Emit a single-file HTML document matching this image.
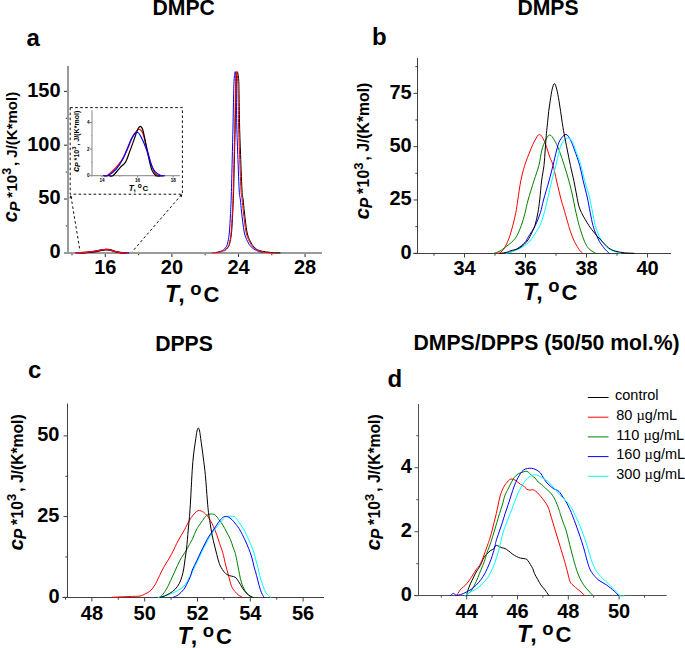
<!DOCTYPE html>
<html><head><meta charset="utf-8"><style>
html,body{margin:0;padding:0;background:#fff;}
body{width:685px;height:648px;overflow:hidden;}
svg{display:block;font-family:"Liberation Sans",sans-serif;}
</style></head><body>
<svg width="685" height="648" viewBox="0 0 685 648">
<rect width="685" height="648" fill="#fff"/>
<text x="183.70" y="15.30" font-size="21.2" text-anchor="middle" font-weight="bold" font-style="normal" >DMPC</text>
<text x="548.00" y="15.30" font-size="21.2" text-anchor="middle" font-weight="bold" font-style="normal" >DMPS</text>
<text x="184.00" y="350.70" font-size="21.2" text-anchor="middle" font-weight="bold" font-style="normal" >DPPS</text>
<text x="546.60" y="350.30" font-size="21.2" text-anchor="middle" font-weight="bold" font-style="normal" >DMPS/DPPS (50/50 mol.%)</text>
<text x="26.60" y="45.60" font-size="24" text-anchor="start" font-weight="bold" font-style="normal" >a</text>
<text x="372.00" y="45.20" font-size="24" text-anchor="start" font-weight="bold" font-style="normal" >b</text>
<text x="28.00" y="378.20" font-size="24" text-anchor="start" font-weight="bold" font-style="normal" >c</text>
<text x="387.60" y="387.00" font-size="24" text-anchor="start" font-weight="bold" font-style="normal" >d</text>
<line x1="72.00" y1="253.00" x2="72.00" y2="255.20" stroke="#3a3a3a" stroke-width="1.1" />
<line x1="105.30" y1="253.00" x2="105.30" y2="257.00" stroke="#3a3a3a" stroke-width="1.1" />
<text x="105.30" y="274.20" font-size="20" text-anchor="middle" font-weight="bold" font-style="normal" >16</text>
<line x1="138.60" y1="253.00" x2="138.60" y2="255.20" stroke="#3a3a3a" stroke-width="1.1" />
<line x1="171.90" y1="253.00" x2="171.90" y2="257.00" stroke="#3a3a3a" stroke-width="1.1" />
<text x="171.90" y="274.20" font-size="20" text-anchor="middle" font-weight="bold" font-style="normal" >20</text>
<line x1="205.20" y1="253.00" x2="205.20" y2="255.20" stroke="#3a3a3a" stroke-width="1.1" />
<line x1="238.50" y1="253.00" x2="238.50" y2="257.00" stroke="#3a3a3a" stroke-width="1.1" />
<text x="238.50" y="274.20" font-size="20" text-anchor="middle" font-weight="bold" font-style="normal" >24</text>
<line x1="271.80" y1="253.00" x2="271.80" y2="255.20" stroke="#3a3a3a" stroke-width="1.1" />
<line x1="305.10" y1="253.00" x2="305.10" y2="257.00" stroke="#3a3a3a" stroke-width="1.1" />
<text x="305.10" y="274.20" font-size="20" text-anchor="middle" font-weight="bold" font-style="normal" >28</text>
<line x1="64.00" y1="252.80" x2="68.00" y2="252.80" stroke="#3a3a3a" stroke-width="1.1" />
<text x="60.60" y="258.20" font-size="20" text-anchor="end" font-weight="bold" font-style="normal" >0</text>
<line x1="65.80" y1="225.90" x2="68.00" y2="225.90" stroke="#3a3a3a" stroke-width="1.1" />
<line x1="64.00" y1="199.00" x2="68.00" y2="199.00" stroke="#3a3a3a" stroke-width="1.1" />
<text x="60.60" y="204.40" font-size="20" text-anchor="end" font-weight="bold" font-style="normal" >50</text>
<line x1="65.80" y1="172.10" x2="68.00" y2="172.10" stroke="#3a3a3a" stroke-width="1.1" />
<line x1="64.00" y1="145.20" x2="68.00" y2="145.20" stroke="#3a3a3a" stroke-width="1.1" />
<text x="60.60" y="150.60" font-size="20" text-anchor="end" font-weight="bold" font-style="normal" >100</text>
<line x1="65.80" y1="118.30" x2="68.00" y2="118.30" stroke="#3a3a3a" stroke-width="1.1" />
<line x1="64.00" y1="91.40" x2="68.00" y2="91.40" stroke="#3a3a3a" stroke-width="1.1" />
<text x="60.60" y="96.80" font-size="20" text-anchor="end" font-weight="bold" font-style="normal" >150</text>
<line x1="68.00" y1="66.00" x2="68.00" y2="254.00" stroke="#9a9a9a" stroke-width="2" />
<line x1="64.00" y1="253.00" x2="322.00" y2="253.00" stroke="#9a9a9a" stroke-width="2" />
<rect x="70.2" y="107.6" width="112.2" height="86.6" fill="none" stroke="#111" stroke-width="1" stroke-dasharray="2.6,2.4"/>
<line x1="71.00" y1="196.50" x2="80.00" y2="251.00" stroke="#111" stroke-width="1" stroke-dasharray="2.6,2.4"/>
<line x1="181.40" y1="194.80" x2="132.10" y2="251.80" stroke="#111" stroke-width="1" stroke-dasharray="2.6,2.4"/>
<path d="M70.2,195.2 L72.4,197.2 L69.6,198.4 Z" fill="#111"/>
<path d="M182.4,194.2 L181.6,197.4 L179.6,195.6 Z" fill="#111"/>
<line x1="102.00" y1="175.70" x2="102.00" y2="177.40" stroke="#333" stroke-width="0.7" />
<text x="102.00" y="181.80" font-size="4.6" text-anchor="middle" font-weight="bold" font-style="normal" >14</text>
<line x1="137.60" y1="175.70" x2="137.60" y2="177.40" stroke="#333" stroke-width="0.7" />
<text x="137.60" y="181.80" font-size="4.6" text-anchor="middle" font-weight="bold" font-style="normal" >16</text>
<line x1="173.20" y1="175.70" x2="173.20" y2="177.40" stroke="#333" stroke-width="0.7" />
<text x="173.20" y="181.80" font-size="4.6" text-anchor="middle" font-weight="bold" font-style="normal" >18</text>
<line x1="119.80" y1="175.70" x2="119.80" y2="176.70" stroke="#333" stroke-width="0.6" />
<line x1="155.40" y1="175.70" x2="155.40" y2="176.70" stroke="#333" stroke-width="0.6" />
<line x1="90.00" y1="175.70" x2="92.00" y2="175.70" stroke="#333" stroke-width="0.7" />
<text x="89.60" y="177.40" font-size="4.6" text-anchor="end" font-weight="bold" font-style="normal" >0</text>
<line x1="90.00" y1="149.10" x2="92.00" y2="149.10" stroke="#333" stroke-width="0.7" />
<text x="89.60" y="150.80" font-size="4.6" text-anchor="end" font-weight="bold" font-style="normal" >2</text>
<line x1="90.00" y1="122.50" x2="92.00" y2="122.50" stroke="#333" stroke-width="0.7" />
<text x="89.60" y="124.20" font-size="4.6" text-anchor="end" font-weight="bold" font-style="normal" >4</text>
<line x1="91.00" y1="162.40" x2="92.00" y2="162.40" stroke="#333" stroke-width="0.6" />
<line x1="91.00" y1="135.80" x2="92.00" y2="135.80" stroke="#333" stroke-width="0.6" />
<line x1="92.00" y1="110.30" x2="92.00" y2="176.30" stroke="#9a9a9a" stroke-width="1.2" />
<line x1="91.40" y1="175.70" x2="180.00" y2="175.70" stroke="#9a9a9a" stroke-width="1.2" />
<text transform="translate(79.00,171.90) rotate(-90)" font-size="7.05" font-weight="bold"><tspan x="-0.09" font-style="italic" font-size="9.40">c</tspan><tspan x="4.98" font-style="italic" font-size="7.05" dy="1.40">P</tspan><tspan x="11.37" dy="-1.40">*</tspan><tspan x="14.33">10</tspan><tspan x="22.18" font-size="5.88" dy="-2.82">3</tspan><tspan x="26.32" dy="2.82">, J/(K*mol)</tspan></text>
<text font-weight="bold"><tspan x="128.8" y="191" font-style="italic" font-size="8.2">T</tspan><tspan x="133.5" y="191" font-size="8.2">,</tspan><tspan x="137.8" y="188.2" font-size="6.6">o</tspan><tspan x="142.4" y="191" font-size="7.8">C</tspan></text>
<path d="M103.78,175.70 C104.34,175.66 105.23,176.68 107.16,175.43 C109.09,174.19 112.80,170.98 115.35,168.25 C117.90,165.53 120.42,162.31 122.47,159.07 C124.52,155.84 126.09,152.25 127.63,148.83 C129.17,145.42 130.36,141.41 131.73,138.59 C133.09,135.78 134.54,133.49 135.82,131.94 C137.10,130.39 138.19,129.04 139.38,129.28 C140.57,129.53 141.66,130.15 142.94,133.41 C144.22,136.66 145.67,143.71 147.03,148.83 C148.40,153.95 149.76,160.03 151.13,164.13 C152.49,168.23 153.86,171.51 155.22,173.44 C156.59,175.37 158.10,175.32 159.32,175.70 C160.53,176.08 161.99,175.70 162.52,175.70" fill="none" stroke="#ff0000" stroke-width="1.2" stroke-linejoin="round" stroke-linecap="round" />
<path d="M109.12,175.70 C109.80,175.66 111.34,176.83 113.21,175.43 C115.08,174.04 118.29,169.54 120.33,167.32 C122.38,165.10 123.95,164.71 125.50,162.13 C127.04,159.56 128.23,155.48 129.59,151.89 C130.95,148.30 132.32,144.36 133.68,140.59 C135.05,136.82 136.65,131.65 137.78,129.28 C138.91,126.91 139.59,126.18 140.45,126.36 C141.31,126.53 142.02,127.29 142.94,130.35 C143.86,133.41 144.96,139.92 145.97,144.71 C146.97,149.50 147.98,154.80 148.99,159.07 C150.00,163.35 150.83,167.61 152.02,170.38 C153.20,173.15 154.66,174.81 156.11,175.70 C157.57,176.59 159.97,175.70 160.74,175.70" fill="none" stroke="#000000" stroke-width="1.2" stroke-linejoin="round" stroke-linecap="round" />
<path d="M103.78,175.70 C104.52,175.66 106.15,176.54 108.23,175.43 C110.31,174.33 113.87,171.67 116.24,169.05 C118.61,166.43 120.57,163.29 122.47,159.74 C124.37,156.19 125.94,151.63 127.63,147.77 C129.32,143.91 130.93,139.15 132.62,136.60 C134.31,134.05 136.24,132.14 137.78,132.47 C139.32,132.81 140.33,135.51 141.87,138.59 C143.41,141.67 145.49,146.71 147.03,150.96 C148.58,155.22 149.79,160.67 151.13,164.13 C152.46,167.59 153.35,169.78 155.04,171.71 C156.74,173.64 159.73,175.03 161.27,175.70 C162.82,176.36 163.80,175.70 164.30,175.70" fill="none" stroke="#0000ff" stroke-width="1.2" stroke-linejoin="round" stroke-linecap="round" />
<path d="M75.97,252.80 C76.62,252.80 78.04,252.86 79.84,252.78 C81.65,252.70 84.75,252.51 86.81,252.33 C88.88,252.14 90.58,251.92 92.23,251.66 C93.88,251.41 95.25,251.09 96.72,250.81 C98.19,250.54 99.59,250.20 101.06,250.02 C102.53,249.83 104.21,249.70 105.55,249.72 C106.89,249.75 107.77,249.94 109.11,250.16 C110.45,250.38 112.26,250.74 113.60,251.04 C114.94,251.34 116.00,251.73 117.16,251.98 C118.32,252.22 119.10,252.38 120.57,252.52 C122.04,252.65 124.65,252.75 125.99,252.80 C127.33,252.85 128.18,252.80 128.62,252.80" fill="none" stroke="#0000ff" stroke-width="1.3" stroke-linejoin="round" stroke-linecap="round" />
<path d="M80.62,252.80 C81.21,252.80 82.55,252.88 84.18,252.78 C85.81,252.68 88.59,252.36 90.37,252.20 C92.15,252.05 93.52,252.02 94.86,251.83 C96.21,251.65 97.24,251.36 98.43,251.11 C99.61,250.85 100.80,250.57 101.99,250.30 C103.17,250.03 104.57,249.66 105.55,249.50 C106.53,249.33 107.12,249.27 107.87,249.29 C108.62,249.30 109.24,249.35 110.04,249.57 C110.84,249.79 111.79,250.25 112.67,250.59 C113.55,250.93 114.43,251.31 115.30,251.62 C116.18,251.92 116.90,252.22 117.94,252.42 C118.97,252.62 120.23,252.74 121.50,252.80 C122.76,252.86 124.85,252.80 125.52,252.80" fill="none" stroke="#000000" stroke-width="1.3" stroke-linejoin="round" stroke-linecap="round" />
<path d="M75.97,252.80 C76.46,252.80 77.24,252.87 78.91,252.78 C80.59,252.69 83.82,252.46 86.04,252.27 C88.26,252.08 90.45,251.85 92.23,251.62 C94.01,251.39 95.38,251.13 96.72,250.89 C98.06,250.64 99.10,250.36 100.28,250.16 C101.47,249.96 102.74,249.80 103.84,249.68 C104.95,249.57 105.91,249.48 106.94,249.50 C107.97,249.51 108.93,249.56 110.04,249.79 C111.15,250.02 112.41,250.52 113.60,250.89 C114.79,251.25 115.97,251.68 117.16,251.98 C118.35,252.27 119.54,252.50 120.72,252.64 C121.91,252.78 123.23,252.77 124.28,252.80 C125.34,252.83 126.61,252.80 127.07,252.80" fill="none" stroke="#ff0000" stroke-width="1.3" stroke-linejoin="round" stroke-linecap="round" />
<path d="M216.00,252.50 C217.08,252.18 220.80,251.53 222.50,250.60 C224.20,249.67 225.28,248.45 226.20,246.90 C227.12,245.35 227.47,243.78 228.00,241.30 C228.53,238.82 228.98,236.63 229.40,232.00 C229.82,227.37 230.18,219.67 230.50,213.50 C230.82,207.33 231.02,203.92 231.30,195.00 C231.58,186.08 231.92,171.50 232.20,160.00 C232.48,148.50 232.77,136.67 233.00,126.00 C233.23,115.33 233.42,103.67 233.60,96.00 C233.78,88.33 233.83,84.07 234.10,80.00 C234.37,75.93 234.90,71.60 235.20,71.60 C235.50,71.60 235.72,75.93 235.90,80.00 C236.08,84.07 236.15,88.33 236.30,96.00 C236.45,103.67 236.58,117.00 236.80,126.00 C237.02,135.00 237.20,139.33 237.60,150.00 C238.00,160.67 238.73,181.67 239.20,190.00 C239.67,198.33 240.00,196.33 240.40,200.00 C240.80,203.67 240.97,206.67 241.60,212.00 C242.23,217.33 243.22,227.12 244.20,232.00 C245.18,236.88 246.33,238.82 247.50,241.30 C248.67,243.78 249.67,245.35 251.20,246.90 C252.73,248.45 254.85,249.70 256.70,250.60 C258.55,251.50 261.37,252.02 262.30,252.30" fill="none" stroke="#0000ff" stroke-width="1.0" stroke-linejoin="round" stroke-linecap="round" />
<path d="M224.70,250.60 C225.32,249.98 227.48,248.45 228.40,246.90 C229.32,245.35 229.67,243.78 230.20,241.30 C230.73,238.82 231.18,236.63 231.60,232.00 C232.02,227.37 232.38,219.67 232.70,213.50 C233.02,207.33 233.22,203.92 233.50,195.00 C233.78,186.08 234.12,171.50 234.40,160.00 C234.68,148.50 234.97,136.67 235.20,126.00 C235.43,115.33 235.62,103.67 235.80,96.00 C235.98,88.33 236.03,84.03 236.30,80.00 C236.57,75.97 237.00,71.80 237.40,71.80 C237.80,71.80 238.42,75.97 238.70,80.00 C238.98,84.03 238.95,88.33 239.10,96.00 C239.25,103.67 239.38,117.00 239.60,126.00 C239.82,135.00 240.00,139.33 240.40,150.00 C240.80,160.67 241.53,181.67 242.00,190.00 C242.47,198.33 242.80,196.33 243.20,200.00 C243.60,203.67 243.77,206.67 244.40,212.00 C245.03,217.33 246.02,227.12 247.00,232.00 C247.98,236.88 249.13,238.82 250.30,241.30 C251.47,243.78 252.47,245.35 254.00,246.90 C255.53,248.45 256.50,249.65 259.50,250.60 C262.50,251.55 268.58,252.22 272.00,252.60 C275.42,252.98 278.67,252.85 280.00,252.90" fill="none" stroke="#000000" stroke-width="1.0" stroke-linejoin="round" stroke-linecap="round" />
<path d="M212.00,252.90 C212.97,252.83 215.75,252.88 217.80,252.50 C219.85,252.12 222.60,251.53 224.30,250.60 C226.00,249.67 227.08,248.45 228.00,246.90 C228.92,245.35 229.27,243.78 229.80,241.30 C230.33,238.82 230.78,236.63 231.20,232.00 C231.62,227.37 231.98,219.67 232.30,213.50 C232.62,207.33 232.82,203.92 233.10,195.00 C233.38,186.08 233.72,171.50 234.00,160.00 C234.28,148.50 234.57,136.67 234.80,126.00 C235.03,115.33 235.22,103.67 235.40,96.00 C235.58,88.33 235.67,84.10 235.90,80.00 C236.13,75.90 236.50,71.40 236.80,71.40 C237.10,71.40 237.48,75.90 237.70,80.00 C237.92,84.10 237.95,88.33 238.10,96.00 C238.25,103.67 238.38,117.00 238.60,126.00 C238.82,135.00 239.00,139.33 239.40,150.00 C239.80,160.67 240.53,181.67 241.00,190.00 C241.47,198.33 241.80,196.33 242.20,200.00 C242.60,203.67 242.77,206.67 243.40,212.00 C244.03,217.33 245.02,227.12 246.00,232.00 C246.98,236.88 248.13,238.82 249.30,241.30 C250.47,243.78 251.47,245.35 253.00,246.90 C254.53,248.45 256.65,249.70 258.50,250.60 C260.35,251.50 262.18,251.92 264.10,252.30 C266.02,252.68 268.02,252.80 270.00,252.90 C271.98,253.00 275.00,252.90 276.00,252.90" fill="none" stroke="#ff0000" stroke-width="1.0" stroke-linejoin="round" stroke-linecap="round" />
<text transform="translate(16.70,222.00) rotate(-90)" font-size="15.00" font-weight="bold"><tspan x="-0.20" font-style="italic" font-size="20.00">c</tspan><tspan x="10.60" font-style="italic" font-size="15.00" dy="3.40">P</tspan><tspan x="24.20" dy="-3.40">*</tspan><tspan x="30.50">10</tspan><tspan x="47.20" font-size="12.50" dy="-6.00">3</tspan><tspan x="56.00" dy="6.00">, J/(K*mol)</tspan></text>
<text font-weight="bold"><tspan x="165.00" y="302.00" font-style="italic" font-size="23">T</tspan><tspan x="178.20" y="302.00" font-size="23">,</tspan><tspan x="190.30" y="295.20" font-size="18.5">o</tspan><tspan x="203.40" y="302.00" font-size="22">C</tspan></text>
<line x1="434.00" y1="253.50" x2="434.00" y2="255.70" stroke="#404040" stroke-width="1" />
<line x1="464.50" y1="253.50" x2="464.50" y2="257.50" stroke="#404040" stroke-width="1" />
<text x="464.50" y="275.40" font-size="20" text-anchor="middle" font-weight="bold" font-style="normal" >34</text>
<line x1="495.00" y1="253.50" x2="495.00" y2="255.70" stroke="#404040" stroke-width="1" />
<line x1="525.50" y1="253.50" x2="525.50" y2="257.50" stroke="#404040" stroke-width="1" />
<text x="525.50" y="275.40" font-size="20" text-anchor="middle" font-weight="bold" font-style="normal" >36</text>
<line x1="556.00" y1="253.50" x2="556.00" y2="255.70" stroke="#404040" stroke-width="1" />
<line x1="586.50" y1="253.50" x2="586.50" y2="257.50" stroke="#404040" stroke-width="1" />
<text x="586.50" y="275.40" font-size="20" text-anchor="middle" font-weight="bold" font-style="normal" >38</text>
<line x1="617.00" y1="253.50" x2="617.00" y2="255.70" stroke="#404040" stroke-width="1" />
<line x1="647.50" y1="253.50" x2="647.50" y2="257.50" stroke="#404040" stroke-width="1" />
<text x="647.50" y="275.40" font-size="20" text-anchor="middle" font-weight="bold" font-style="normal" >40</text>
<line x1="413.50" y1="253.30" x2="417.50" y2="253.30" stroke="#404040" stroke-width="1" />
<text x="411.70" y="258.60" font-size="20" text-anchor="end" font-weight="bold" font-style="normal" >0</text>
<line x1="415.30" y1="226.64" x2="417.50" y2="226.64" stroke="#404040" stroke-width="1" />
<line x1="413.50" y1="199.98" x2="417.50" y2="199.98" stroke="#404040" stroke-width="1" />
<text x="411.70" y="205.28" font-size="20" text-anchor="end" font-weight="bold" font-style="normal" >25</text>
<line x1="415.30" y1="173.31" x2="417.50" y2="173.31" stroke="#404040" stroke-width="1" />
<line x1="413.50" y1="146.65" x2="417.50" y2="146.65" stroke="#404040" stroke-width="1" />
<text x="411.70" y="151.95" font-size="20" text-anchor="end" font-weight="bold" font-style="normal" >50</text>
<line x1="415.30" y1="119.99" x2="417.50" y2="119.99" stroke="#404040" stroke-width="1" />
<line x1="413.50" y1="93.33" x2="417.50" y2="93.33" stroke="#404040" stroke-width="1" />
<text x="411.70" y="98.63" font-size="20" text-anchor="end" font-weight="bold" font-style="normal" >75</text>
<line x1="415.30" y1="66.66" x2="417.50" y2="66.66" stroke="#404040" stroke-width="1" />
<line x1="417.50" y1="58.00" x2="417.50" y2="254.03" stroke="#404040" stroke-width="1.05" />
<line x1="413.40" y1="253.50" x2="671.00" y2="253.50" stroke="#404040" stroke-width="1.05" />
<path d="M497.00,253.30 C497.45,253.22 498.83,253.20 499.70,252.80 C500.57,252.40 501.28,251.92 502.20,250.90 C503.12,249.88 504.07,248.82 505.20,246.70 C506.33,244.58 507.73,241.73 509.00,238.20 C510.27,234.67 511.67,229.75 512.80,225.50 C513.93,221.25 514.97,216.95 515.80,212.70 C516.63,208.45 516.97,205.30 517.80,200.00 C518.63,194.70 519.65,186.67 520.80,180.90 C521.95,175.13 523.08,170.55 524.70,165.40 C526.32,160.25 528.78,154.20 530.50,150.00 C532.22,145.80 533.52,142.80 535.00,140.20 C536.48,137.60 537.92,134.40 539.40,134.40 C540.88,134.40 542.55,137.60 543.90,140.20 C545.25,142.80 546.48,147.08 547.50,150.00 C548.52,152.92 549.07,155.13 550.00,157.70 C550.93,160.27 552.00,161.53 553.10,165.40 C554.20,169.27 555.25,175.13 556.60,180.90 C557.95,186.67 560.03,195.48 561.20,200.00 C562.37,204.52 562.50,204.20 563.60,208.00 C564.70,211.80 566.63,218.80 567.80,222.80 C568.97,226.80 569.52,228.92 570.60,232.00 C571.68,235.08 573.07,238.67 574.30,241.30 C575.53,243.93 577.00,246.18 578.00,247.80 C579.00,249.42 579.53,250.08 580.30,251.00 C581.07,251.92 582.22,252.92 582.60,253.30" fill="none" stroke="#ff0000" stroke-width="1.0" stroke-linejoin="round" stroke-linecap="round" />
<path d="M494.00,253.30 C494.42,253.17 495.48,252.90 496.50,252.50 C497.52,252.10 498.52,251.87 500.10,250.90 C501.68,249.93 503.45,248.82 506.00,246.70 C508.55,244.58 512.85,241.73 515.40,238.20 C517.95,234.67 519.68,229.75 521.30,225.50 C522.92,221.25 523.97,216.95 525.10,212.70 C526.23,208.45 526.63,205.30 528.10,200.00 C529.57,194.70 532.10,186.67 533.90,180.90 C535.70,175.13 537.57,170.55 538.90,165.40 C540.23,160.25 540.78,154.20 541.90,150.00 C543.02,145.80 544.30,142.72 545.60,140.20 C546.90,137.68 548.23,134.90 549.70,134.90 C551.17,134.90 552.85,137.68 554.40,140.20 C555.95,142.72 557.35,145.80 559.00,150.00 C560.65,154.20 562.65,160.25 564.30,165.40 C565.95,170.55 567.55,175.97 568.90,180.90 C570.25,185.83 571.35,190.33 572.40,195.00 C573.45,199.67 574.20,204.27 575.20,208.90 C576.20,213.53 577.40,218.95 578.40,222.80 C579.40,226.65 580.20,228.92 581.20,232.00 C582.20,235.08 583.25,238.67 584.40,241.30 C585.55,243.93 586.85,246.18 588.10,247.80 C589.35,249.42 590.65,250.08 591.90,251.00 C593.15,251.92 594.98,252.92 595.60,253.30" fill="none" stroke="#008000" stroke-width="1.0" stroke-linejoin="round" stroke-linecap="round" />
<path d="M505.00,253.30 C505.67,253.18 507.53,253.03 509.00,252.60 C510.47,252.17 512.33,251.40 513.80,250.70 C515.27,250.00 515.95,249.77 517.80,248.40 C519.65,247.03 523.13,244.45 524.90,242.50 C526.67,240.55 526.67,239.53 528.40,236.70 C530.13,233.87 533.30,229.50 535.30,225.50 C537.30,221.50 539.03,216.95 540.40,212.70 C541.77,208.45 542.07,205.30 543.50,200.00 C544.93,194.70 547.42,186.67 549.00,180.90 C550.58,175.13 551.72,170.55 553.00,165.40 C554.28,160.25 555.53,154.20 556.70,150.00 C557.87,145.80 558.47,142.80 560.00,140.20 C561.53,137.60 564.13,134.40 565.90,134.40 C567.67,134.40 569.17,137.60 570.60,140.20 C572.03,142.80 572.98,145.80 574.50,150.00 C576.02,154.20 578.25,160.25 579.70,165.40 C581.15,170.55 581.95,175.63 583.20,180.90 C584.45,186.17 586.15,192.33 587.20,197.00 C588.25,201.67 588.65,204.60 589.50,208.90 C590.35,213.20 591.37,218.95 592.30,222.80 C593.23,226.65 593.93,228.92 595.10,232.00 C596.27,235.08 597.83,238.67 599.30,241.30 C600.77,243.93 602.67,246.18 603.90,247.80 C605.13,249.42 605.78,250.08 606.70,251.00 C607.62,251.92 608.95,252.92 609.40,253.30" fill="none" stroke="#0000ff" stroke-width="1.0" stroke-linejoin="round" stroke-linecap="round" />
<path d="M506.00,253.30 C506.67,253.18 508.63,253.02 510.00,252.60 C511.37,252.18 512.50,251.50 514.20,250.80 C515.90,250.10 517.83,249.78 520.20,248.40 C522.57,247.02 526.27,244.45 528.40,242.50 C530.53,240.55 531.07,239.53 533.00,236.70 C534.93,233.87 538.13,229.50 540.00,225.50 C541.87,221.50 542.97,216.95 544.20,212.70 C545.43,208.45 546.15,205.30 547.40,200.00 C548.65,194.70 550.28,186.67 551.70,180.90 C553.12,175.13 554.60,170.55 555.90,165.40 C557.20,160.25 558.32,153.98 559.50,150.00 C560.68,146.02 561.62,143.50 563.00,141.50 C564.38,139.50 566.30,138.08 567.80,138.00 C569.30,137.92 570.72,139.00 572.00,141.00 C573.28,143.00 574.02,145.93 575.50,150.00 C576.98,154.07 579.37,160.25 580.90,165.40 C582.43,170.55 583.28,175.63 584.70,180.90 C586.12,186.17 588.20,192.33 589.40,197.00 C590.60,201.67 591.03,204.60 591.90,208.90 C592.77,213.20 593.68,218.95 594.60,222.80 C595.52,226.65 596.17,228.92 597.40,232.00 C598.63,235.08 600.30,238.67 602.00,241.30 C603.70,243.93 605.75,246.18 607.60,247.80 C609.45,249.42 610.93,250.08 613.10,251.00 C615.27,251.92 619.35,252.92 620.60,253.30" fill="none" stroke="#00ffff" stroke-width="1.0" stroke-linejoin="round" stroke-linecap="round" />
<path d="M500.00,253.30 C500.58,253.23 502.33,253.08 503.50,252.90 C504.67,252.72 505.78,252.57 507.00,252.20 C508.22,251.83 508.80,251.37 510.80,250.70 C512.80,250.03 516.47,249.57 519.00,248.20 C521.53,246.83 524.20,244.42 526.00,242.50 C527.80,240.58 528.32,239.53 529.80,236.70 C531.28,233.87 533.55,229.50 534.90,225.50 C536.25,221.50 537.10,216.95 537.90,212.70 C538.70,208.45 539.08,205.30 539.70,200.00 C540.32,194.70 540.88,186.67 541.60,180.90 C542.32,175.13 543.40,170.55 544.00,165.40 C544.60,160.25 544.80,155.30 545.20,150.00 C545.60,144.70 546.00,138.20 546.40,133.60 C546.80,129.00 547.22,126.12 547.60,122.40 C547.98,118.68 548.25,115.00 548.70,111.30 C549.15,107.60 549.72,103.90 550.30,100.20 C550.88,96.50 551.52,91.87 552.20,89.10 C552.88,86.33 553.65,83.60 554.40,83.60 C555.15,83.60 555.95,86.33 556.70,89.10 C557.45,91.87 558.25,96.50 558.90,100.20 C559.55,103.90 560.05,107.60 560.60,111.30 C561.15,115.00 561.62,118.68 562.20,122.40 C562.78,126.12 563.25,129.00 564.10,133.60 C564.95,138.20 566.25,144.70 567.30,150.00 C568.35,155.30 569.30,160.25 570.40,165.40 C571.50,170.55 572.87,175.97 573.90,180.90 C574.93,185.83 575.62,190.33 576.60,195.00 C577.58,199.67 578.03,204.27 579.80,208.90 C581.57,213.53 584.88,218.95 587.20,222.80 C589.52,226.65 591.23,228.92 593.70,232.00 C596.17,235.08 599.53,238.67 602.00,241.30 C604.47,243.93 606.33,246.18 608.50,247.80 C610.67,249.42 612.37,250.17 615.00,251.00 C617.63,251.83 621.13,252.42 624.30,252.80 C627.47,253.18 632.38,253.22 634.00,253.30" fill="none" stroke="#000000" stroke-width="1.0" stroke-linejoin="round" stroke-linecap="round" />
<text transform="translate(369.00,219.40) rotate(-90)" font-size="15.75" font-weight="bold"><tspan x="-0.21" font-style="italic" font-size="21.00">c</tspan><tspan x="11.13" font-style="italic" font-size="15.75" dy="2.60">P</tspan><tspan x="25.41" dy="-2.60">*</tspan><tspan x="32.02">10</tspan><tspan x="49.56" font-size="13.12" dy="-6.30">3</tspan><tspan x="58.80" dy="6.30">, J/(K*mol)</tspan></text>
<text font-weight="bold"><tspan x="523.00" y="300.00" font-style="italic" font-size="23">T</tspan><tspan x="536.20" y="300.00" font-size="23">,</tspan><tspan x="548.30" y="292.40" font-size="18.5">o</tspan><tspan x="561.40" y="300.00" font-size="22">C</tspan></text>
<line x1="65.50" y1="597.50" x2="65.50" y2="599.70" stroke="#404040" stroke-width="1" />
<line x1="91.90" y1="597.50" x2="91.90" y2="601.50" stroke="#404040" stroke-width="1" />
<text x="91.90" y="619.70" font-size="20" text-anchor="middle" font-weight="bold" font-style="normal" >48</text>
<line x1="118.30" y1="597.50" x2="118.30" y2="599.70" stroke="#404040" stroke-width="1" />
<line x1="144.70" y1="597.50" x2="144.70" y2="601.50" stroke="#404040" stroke-width="1" />
<text x="144.70" y="619.70" font-size="20" text-anchor="middle" font-weight="bold" font-style="normal" >50</text>
<line x1="171.10" y1="597.50" x2="171.10" y2="599.70" stroke="#404040" stroke-width="1" />
<line x1="197.50" y1="597.50" x2="197.50" y2="601.50" stroke="#404040" stroke-width="1" />
<text x="197.50" y="619.70" font-size="20" text-anchor="middle" font-weight="bold" font-style="normal" >52</text>
<line x1="223.90" y1="597.50" x2="223.90" y2="599.70" stroke="#404040" stroke-width="1" />
<line x1="250.30" y1="597.50" x2="250.30" y2="601.50" stroke="#404040" stroke-width="1" />
<text x="250.30" y="619.70" font-size="20" text-anchor="middle" font-weight="bold" font-style="normal" >54</text>
<line x1="276.70" y1="597.50" x2="276.70" y2="599.70" stroke="#404040" stroke-width="1" />
<line x1="303.10" y1="597.50" x2="303.10" y2="601.50" stroke="#404040" stroke-width="1" />
<text x="303.10" y="619.70" font-size="20" text-anchor="middle" font-weight="bold" font-style="normal" >56</text>
<line x1="63.50" y1="597.30" x2="67.50" y2="597.30" stroke="#404040" stroke-width="1" />
<text x="59.50" y="602.60" font-size="20" text-anchor="end" font-weight="bold" font-style="normal" >0</text>
<line x1="65.30" y1="556.95" x2="67.50" y2="556.95" stroke="#404040" stroke-width="1" />
<line x1="63.50" y1="516.60" x2="67.50" y2="516.60" stroke="#404040" stroke-width="1" />
<text x="59.50" y="521.90" font-size="20" text-anchor="end" font-weight="bold" font-style="normal" >25</text>
<line x1="65.30" y1="476.25" x2="67.50" y2="476.25" stroke="#404040" stroke-width="1" />
<line x1="63.50" y1="435.90" x2="67.50" y2="435.90" stroke="#404040" stroke-width="1" />
<text x="59.50" y="441.20" font-size="20" text-anchor="end" font-weight="bold" font-style="normal" >50</text>
<line x1="67.50" y1="403.50" x2="67.50" y2="598.02" stroke="#404040" stroke-width="1.05" />
<line x1="62.40" y1="597.50" x2="324.00" y2="597.50" stroke="#404040" stroke-width="1.05" />
<path d="M111.90,597.30 C113.25,597.23 116.98,597.03 120.00,596.90 C123.02,596.77 126.67,596.65 130.00,596.50 C133.33,596.35 137.45,596.45 140.00,596.00 C142.55,595.55 143.55,594.68 145.30,593.80 C147.05,592.92 148.90,592.17 150.50,590.70 C152.10,589.23 153.58,587.12 154.90,585.00 C156.22,582.88 156.95,580.92 158.40,578.00 C159.85,575.08 161.85,570.70 163.60,567.50 C165.35,564.30 167.22,561.72 168.90,558.80 C170.58,555.88 172.42,552.53 173.70,550.00 C174.98,547.47 175.40,545.95 176.60,543.60 C177.80,541.25 179.57,538.23 180.90,535.90 C182.23,533.57 183.18,532.18 184.60,529.60 C186.02,527.02 187.97,522.83 189.40,520.40 C190.83,517.97 192.02,516.48 193.20,515.00 C194.38,513.52 195.43,512.25 196.50,511.50 C197.57,510.75 198.43,510.37 199.60,510.50 C200.77,510.63 202.22,511.42 203.50,512.30 C204.78,513.18 206.15,514.45 207.30,515.80 C208.45,517.15 209.37,518.60 210.40,520.40 C211.43,522.20 212.47,524.28 213.50,526.60 C214.53,528.92 215.58,531.48 216.60,534.30 C217.62,537.12 218.57,540.42 219.60,543.50 C220.63,546.58 221.78,549.18 222.80,552.80 C223.82,556.42 224.73,561.38 225.70,565.20 C226.67,569.02 227.63,572.20 228.60,575.70 C229.57,579.20 230.43,583.57 231.50,586.20 C232.57,588.83 233.80,589.98 235.00,591.50 C236.20,593.02 237.47,594.33 238.70,595.30 C239.93,596.27 241.78,596.97 242.40,597.30" fill="none" stroke="#ff0000" stroke-width="1.0" stroke-linejoin="round" stroke-linecap="round" />
<path d="M159.30,597.30 C159.73,597.00 160.73,596.82 161.90,595.50 C163.07,594.18 164.85,591.88 166.30,589.40 C167.75,586.92 169.15,583.67 170.60,580.60 C172.05,577.53 173.43,574.40 175.00,571.00 C176.57,567.60 178.13,563.63 180.00,560.20 C181.87,556.77 184.63,553.02 186.20,550.40 C187.77,547.78 188.38,546.35 189.40,544.50 C190.42,542.65 191.15,541.72 192.30,539.30 C193.45,536.88 195.20,532.25 196.30,530.00 C197.40,527.75 197.83,527.40 198.90,525.80 C199.97,524.20 201.42,522.12 202.70,520.40 C203.98,518.68 205.18,516.57 206.60,515.50 C208.02,514.43 209.78,514.08 211.20,514.00 C212.62,513.92 213.82,514.05 215.10,515.00 C216.38,515.95 217.62,518.02 218.90,519.70 C220.18,521.38 221.52,523.05 222.80,525.10 C224.08,527.15 225.32,529.57 226.60,532.00 C227.88,534.43 229.43,537.20 230.50,539.70 C231.57,542.20 232.15,544.52 233.00,547.00 C233.85,549.48 234.75,551.28 235.60,554.60 C236.45,557.92 237.17,562.38 238.10,566.90 C239.03,571.42 240.07,577.78 241.20,581.70 C242.33,585.62 243.67,588.13 244.90,590.40 C246.13,592.67 247.47,594.15 248.60,595.30 C249.73,596.45 251.18,596.97 251.70,597.30" fill="none" stroke="#008000" stroke-width="1.0" stroke-linejoin="round" stroke-linecap="round" />
<path d="M158.40,597.30 C159.72,597.00 163.53,596.38 166.30,595.50 C169.07,594.62 172.52,593.17 175.00,592.00 C177.48,590.83 179.45,589.80 181.20,588.50 C182.95,587.20 184.20,585.95 185.50,584.20 C186.80,582.45 187.70,580.37 189.00,578.00 C190.30,575.63 191.87,572.85 193.30,570.00 C194.73,567.15 196.17,563.97 197.60,560.90 C199.03,557.83 200.47,554.58 201.90,551.60 C203.33,548.62 204.82,545.57 206.20,543.00 C207.58,540.43 208.85,538.37 210.20,536.20 C211.55,534.03 212.72,532.12 214.30,530.00 C215.88,527.88 218.17,525.35 219.70,523.50 C221.23,521.65 222.35,520.05 223.50,518.90 C224.65,517.75 224.78,516.98 226.60,516.60 C228.42,516.22 232.47,515.83 234.40,516.60 C236.33,517.37 237.02,519.63 238.20,521.20 C239.38,522.77 240.48,524.45 241.50,526.00 C242.52,527.55 243.12,528.20 244.30,530.50 C245.48,532.80 247.17,536.62 248.60,539.80 C250.03,542.98 251.77,546.52 252.90,549.60 C254.03,552.68 254.58,555.42 255.40,558.30 C256.22,561.18 257.08,564.02 257.80,566.90 C258.52,569.78 258.87,572.52 259.70,575.60 C260.53,578.68 261.77,582.53 262.80,585.40 C263.83,588.27 264.57,590.82 265.90,592.80 C267.23,594.78 269.98,596.55 270.80,597.30" fill="none" stroke="#00ffff" stroke-width="1.0" stroke-linejoin="round" stroke-linecap="round" />
<path d="M173.30,597.30 C174.17,596.87 176.75,596.02 178.50,594.70 C180.25,593.38 182.42,591.15 183.80,589.40 C185.18,587.65 185.68,586.38 186.80,584.20 C187.92,582.02 189.58,578.67 190.50,576.30 C191.42,573.93 191.27,572.57 192.30,570.00 C193.33,567.43 195.25,563.97 196.70,560.90 C198.15,557.83 199.57,554.58 201.00,551.60 C202.43,548.62 203.97,545.57 205.30,543.00 C206.63,540.43 207.77,538.20 209.00,536.20 C210.23,534.20 211.43,532.85 212.70,531.00 C213.97,529.15 215.30,526.98 216.60,525.10 C217.90,523.22 219.22,521.12 220.50,519.70 C221.78,518.28 223.02,517.05 224.30,516.60 C225.58,516.15 226.92,516.48 228.20,517.00 C229.48,517.52 230.72,518.48 232.00,519.70 C233.28,520.92 234.58,522.60 235.90,524.30 C237.22,526.00 238.40,527.32 239.90,529.90 C241.40,532.48 243.45,536.72 244.90,539.80 C246.35,542.88 247.47,545.53 248.60,548.40 C249.73,551.27 250.78,553.92 251.70,557.00 C252.62,560.08 253.28,563.80 254.10,566.90 C254.92,570.00 255.77,572.52 256.60,575.60 C257.43,578.68 258.28,582.53 259.10,585.40 C259.92,588.27 260.68,590.82 261.50,592.80 C262.32,594.78 263.58,596.55 264.00,597.30" fill="none" stroke="#0000ff" stroke-width="1.0" stroke-linejoin="round" stroke-linecap="round" />
<path d="M160.10,597.30 C160.83,597.08 162.88,596.67 164.50,596.00 C166.12,595.33 168.05,594.40 169.80,593.30 C171.55,592.20 173.40,591.07 175.00,589.40 C176.60,587.73 178.23,585.48 179.40,583.30 C180.57,581.12 181.28,578.68 182.00,576.30 C182.72,573.92 183.18,571.92 183.70,569.00 C184.22,566.08 184.63,562.13 185.10,558.80 C185.57,555.47 186.12,552.18 186.50,549.00 C186.88,545.82 187.10,543.03 187.40,539.70 C187.70,536.37 187.95,532.85 188.30,529.00 C188.65,525.15 189.12,521.43 189.50,516.60 C189.88,511.77 190.20,506.83 190.60,500.00 C191.00,493.17 191.45,482.77 191.90,475.60 C192.35,468.43 192.65,463.18 193.30,457.00 C193.95,450.82 195.18,442.83 195.80,438.50 C196.42,434.17 196.58,432.75 197.00,431.00 C197.42,429.25 197.87,428.00 198.30,428.00 C198.73,428.00 199.20,429.25 199.60,431.00 C200.00,432.75 200.10,434.17 200.70,438.50 C201.30,442.83 202.42,450.82 203.20,457.00 C203.98,463.18 204.72,468.43 205.40,475.60 C206.08,482.77 206.78,493.82 207.30,500.00 C207.82,506.18 208.10,509.30 208.50,512.70 C208.90,516.10 209.30,517.83 209.70,520.40 C210.10,522.97 210.47,525.50 210.90,528.10 C211.33,530.70 211.72,533.18 212.30,536.00 C212.88,538.82 213.65,541.92 214.40,545.00 C215.15,548.08 215.98,551.42 216.80,554.50 C217.62,557.58 218.20,560.75 219.30,563.50 C220.40,566.25 221.95,569.07 223.40,571.00 C224.85,572.93 226.07,574.07 228.00,575.10 C229.93,576.13 233.22,576.10 235.00,577.20 C236.78,578.30 237.47,579.92 238.70,581.70 C239.93,583.48 241.17,586.05 242.40,587.90 C243.63,589.75 244.67,591.37 246.10,592.80 C247.53,594.23 249.85,595.75 251.00,596.50 C252.15,597.25 252.67,597.17 253.00,597.30" fill="none" stroke="#000000" stroke-width="1.0" stroke-linejoin="round" stroke-linecap="round" />
<text transform="translate(22.60,550.30) rotate(-90)" font-size="15.67" font-weight="bold"><tspan x="-0.21" font-style="italic" font-size="20.90">c</tspan><tspan x="11.08" font-style="italic" font-size="15.67" dy="3.00">P</tspan><tspan x="25.29" dy="-3.00">*</tspan><tspan x="31.87">10</tspan><tspan x="49.32" font-size="13.06" dy="-6.27">3</tspan><tspan x="58.52" dy="6.27">, J/(K*mol)</tspan></text>
<text font-weight="bold"><tspan x="177.50" y="644.00" font-style="italic" font-size="23">T</tspan><tspan x="190.70" y="644.00" font-size="23">,</tspan><tspan x="202.80" y="636.80" font-size="18.5">o</tspan><tspan x="215.90" y="644.00" font-size="22">C</tspan></text>
<line x1="441.30" y1="595.50" x2="441.30" y2="597.70" stroke="#505050" stroke-width="1" />
<line x1="466.70" y1="595.50" x2="466.70" y2="599.50" stroke="#505050" stroke-width="1" />
<text x="466.70" y="618.00" font-size="20" text-anchor="middle" font-weight="bold" font-style="normal" >44</text>
<line x1="492.10" y1="595.50" x2="492.10" y2="597.70" stroke="#505050" stroke-width="1" />
<line x1="517.50" y1="595.50" x2="517.50" y2="599.50" stroke="#505050" stroke-width="1" />
<text x="517.50" y="618.00" font-size="20" text-anchor="middle" font-weight="bold" font-style="normal" >46</text>
<line x1="542.90" y1="595.50" x2="542.90" y2="597.70" stroke="#505050" stroke-width="1" />
<line x1="568.30" y1="595.50" x2="568.30" y2="599.50" stroke="#505050" stroke-width="1" />
<text x="568.30" y="618.00" font-size="20" text-anchor="middle" font-weight="bold" font-style="normal" >48</text>
<line x1="593.70" y1="595.50" x2="593.70" y2="597.70" stroke="#505050" stroke-width="1" />
<line x1="619.10" y1="595.50" x2="619.10" y2="599.50" stroke="#505050" stroke-width="1" />
<text x="619.10" y="618.00" font-size="20" text-anchor="middle" font-weight="bold" font-style="normal" >50</text>
<line x1="644.50" y1="595.50" x2="644.50" y2="597.70" stroke="#505050" stroke-width="1" />
<line x1="414.50" y1="595.70" x2="418.50" y2="595.70" stroke="#505050" stroke-width="1" />
<text x="411.80" y="601.00" font-size="20" text-anchor="end" font-weight="bold" font-style="normal" >0</text>
<line x1="416.30" y1="563.70" x2="418.50" y2="563.70" stroke="#505050" stroke-width="1" />
<line x1="414.50" y1="531.70" x2="418.50" y2="531.70" stroke="#505050" stroke-width="1" />
<text x="411.80" y="537.00" font-size="20" text-anchor="end" font-weight="bold" font-style="normal" >2</text>
<line x1="416.30" y1="499.70" x2="418.50" y2="499.70" stroke="#505050" stroke-width="1" />
<line x1="414.50" y1="467.70" x2="418.50" y2="467.70" stroke="#505050" stroke-width="1" />
<text x="411.80" y="473.00" font-size="20" text-anchor="end" font-weight="bold" font-style="normal" >4</text>
<line x1="416.30" y1="435.70" x2="418.50" y2="435.70" stroke="#505050" stroke-width="1" />
<line x1="418.50" y1="404.00" x2="418.50" y2="596.02" stroke="#505050" stroke-width="1.05" />
<line x1="414.10" y1="595.50" x2="666.70" y2="595.50" stroke="#505050" stroke-width="1.05" />
<path d="M466.40,595.70 C466.80,594.35 467.85,590.18 468.80,587.60 C469.75,585.02 470.87,582.80 472.10,580.20 C473.33,577.60 474.83,574.45 476.20,572.00 C477.57,569.55 479.07,567.82 480.30,565.50 C481.53,563.18 482.52,560.02 483.60,558.10 C484.68,556.18 485.58,555.30 486.80,554.00 C488.02,552.70 489.80,551.12 490.90,550.30 C492.00,549.48 492.58,549.90 493.40,549.10 C494.22,548.30 494.85,545.95 495.80,545.50 C496.75,545.05 498.08,546.02 499.10,546.40 C500.12,546.78 500.92,547.45 501.90,547.80 C502.88,548.15 503.93,548.02 505.00,548.50 C506.07,548.98 507.07,549.78 508.30,550.70 C509.53,551.62 511.03,553.03 512.40,554.00 C513.77,554.97 515.15,555.82 516.50,556.50 C517.85,557.18 519.00,557.70 520.50,558.10 C522.00,558.50 524.27,558.50 525.50,558.90 C526.73,559.30 527.08,559.55 527.90,560.50 C528.72,561.45 529.58,563.23 530.40,564.60 C531.22,565.97 532.12,567.20 532.80,568.70 C533.48,570.20 533.68,571.82 534.50,573.60 C535.32,575.38 536.62,577.48 537.70,579.40 C538.78,581.32 539.77,583.33 541.00,585.10 C542.23,586.87 543.87,588.37 545.10,590.00 C546.33,591.63 547.75,593.95 548.40,594.90 C549.05,595.85 548.90,595.57 549.00,595.70" fill="none" stroke="#000000" stroke-width="1.0" stroke-linejoin="round" stroke-linecap="round" />
<path d="M456.00,595.70 C456.17,595.58 456.50,595.68 457.00,595.00 C457.50,594.32 458.25,592.70 459.00,591.60 C459.75,590.50 460.42,589.48 461.50,588.40 C462.58,587.32 464.28,586.33 465.50,585.10 C466.72,583.87 467.70,582.50 468.80,581.00 C469.90,579.50 470.87,578.02 472.10,576.10 C473.33,574.18 474.97,571.27 476.20,569.50 C477.43,567.73 478.55,567.00 479.50,565.50 C480.45,564.00 481.08,562.42 481.90,560.50 C482.72,558.58 483.45,556.58 484.40,554.00 C485.35,551.42 486.85,547.12 487.60,545.00 C488.35,542.88 488.22,543.47 488.90,541.30 C489.58,539.13 490.85,535.08 491.70,532.00 C492.55,528.92 493.23,525.88 494.00,522.80 C494.77,519.72 495.62,516.47 496.30,513.50 C496.98,510.53 497.42,508.07 498.10,505.00 C498.78,501.93 499.50,498.03 500.40,495.10 C501.30,492.17 502.47,489.45 503.50,487.40 C504.53,485.35 505.57,484.12 506.60,482.80 C507.63,481.48 508.80,480.12 509.70,479.50 C510.60,478.88 511.10,479.00 512.00,479.10 C512.90,479.20 514.08,479.55 515.10,480.10 C516.12,480.65 517.20,481.70 518.10,482.40 C519.00,483.10 519.60,483.72 520.50,484.30 C521.40,484.88 522.48,485.12 523.50,485.90 C524.52,486.68 525.57,488.30 526.60,489.00 C527.63,489.70 528.67,489.98 529.70,490.10 C530.73,490.22 531.77,489.50 532.80,489.70 C533.83,489.90 534.87,490.52 535.90,491.30 C536.93,492.08 537.97,493.25 539.00,494.40 C540.03,495.55 540.90,496.67 542.10,498.20 C543.30,499.73 545.13,501.93 546.20,503.60 C547.27,505.27 547.77,506.30 548.50,508.20 C549.23,510.10 549.45,511.22 550.60,515.00 C551.75,518.78 553.82,525.68 555.40,530.90 C556.98,536.12 558.55,541.17 560.10,546.30 C561.65,551.43 563.47,557.42 564.70,561.70 C565.93,565.98 566.60,568.65 567.50,572.00 C568.40,575.35 569.02,579.47 570.10,581.80 C571.18,584.13 572.85,584.85 574.00,586.00 C575.15,587.15 575.83,587.70 577.00,588.70 C578.17,589.70 579.70,590.83 581.00,592.00 C582.30,593.17 584.17,595.08 584.80,595.70" fill="none" stroke="#ff0000" stroke-width="1.0" stroke-linejoin="round" stroke-linecap="round" />
<path d="M465.50,595.70 C465.65,595.62 465.57,595.88 466.40,595.20 C467.23,594.52 469.15,593.28 470.50,591.60 C471.85,589.92 473.28,587.42 474.50,585.10 C475.72,582.78 476.70,580.30 477.80,577.70 C478.90,575.10 480.00,572.22 481.10,569.50 C482.20,566.78 483.45,564.12 484.40,561.40 C485.35,558.68 486.07,555.43 486.80,553.20 C487.53,550.97 488.07,549.98 488.80,548.00 C489.53,546.02 490.33,543.97 491.20,541.30 C492.07,538.63 493.07,535.08 494.00,532.00 C494.93,528.92 495.88,525.88 496.80,522.80 C497.72,519.72 498.58,516.47 499.50,513.50 C500.42,510.53 501.38,508.07 502.30,505.00 C503.22,501.93 504.03,497.77 505.00,495.10 C505.97,492.43 507.07,491.05 508.10,489.00 C509.13,486.95 510.17,484.73 511.20,482.80 C512.23,480.87 513.15,478.88 514.30,477.40 C515.45,475.92 516.82,474.73 518.10,473.90 C519.38,473.07 520.70,472.85 522.00,472.40 C523.30,471.95 524.87,471.27 525.90,471.20 C526.93,471.13 527.30,471.35 528.20,472.00 C529.10,472.65 530.15,474.08 531.30,475.10 C532.45,476.12 533.95,476.95 535.10,478.10 C536.25,479.25 537.17,480.97 538.20,482.00 C539.23,483.03 540.48,483.67 541.30,484.30 C542.12,484.93 542.28,485.03 543.10,485.80 C543.92,486.57 545.17,487.93 546.20,488.90 C547.23,489.87 548.28,490.57 549.30,491.60 C550.32,492.63 551.40,493.87 552.30,495.10 C553.20,496.33 553.92,497.45 554.70,499.00 C555.48,500.55 556.23,502.48 557.00,504.40 C557.77,506.32 558.73,508.83 559.30,510.50 C559.87,512.17 559.78,512.48 560.40,514.40 C561.02,516.32 562.03,519.25 563.00,522.00 C563.97,524.75 564.88,526.33 566.20,530.90 C567.52,535.47 569.35,543.48 570.90,549.40 C572.45,555.32 574.23,562.13 575.50,566.40 C576.77,570.67 577.47,572.43 578.50,575.00 C579.53,577.57 580.45,579.63 581.70,581.80 C582.95,583.97 584.08,585.68 586.00,588.00 C587.92,590.32 592.00,594.42 593.20,595.70" fill="none" stroke="#008000" stroke-width="1.0" stroke-linejoin="round" stroke-linecap="round" />
<path d="M450.40,595.70 C450.88,595.33 452.28,593.58 453.30,593.50 C454.32,593.42 455.28,595.02 456.50,595.20 C457.72,595.38 458.95,595.13 460.60,594.60 C462.25,594.07 464.62,592.90 466.40,592.00 C468.18,591.10 469.67,590.35 471.30,589.20 C472.93,588.05 474.57,586.73 476.20,585.10 C477.83,583.47 479.60,581.45 481.10,579.40 C482.60,577.35 483.83,575.40 485.20,572.80 C486.57,570.20 488.10,566.72 489.30,563.80 C490.50,560.88 491.45,558.27 492.40,555.30 C493.35,552.33 494.40,548.33 495.00,546.00 C495.60,543.67 495.32,543.63 496.00,541.30 C496.68,538.97 498.05,535.08 499.10,532.00 C500.15,528.92 501.30,525.88 502.30,522.80 C503.30,519.72 504.10,516.58 505.10,513.50 C506.10,510.42 507.28,507.37 508.30,504.30 C509.32,501.23 510.20,498.17 511.20,495.10 C512.20,492.03 513.27,488.60 514.30,485.90 C515.33,483.20 516.37,480.97 517.40,478.90 C518.43,476.83 519.48,474.98 520.50,473.50 C521.52,472.02 522.35,470.83 523.50,470.00 C524.65,469.17 526.10,468.78 527.40,468.50 C528.70,468.22 530.02,468.17 531.30,468.30 C532.58,468.43 533.82,468.75 535.10,469.30 C536.38,469.85 537.98,470.82 539.00,471.60 C540.02,472.38 540.52,473.05 541.20,474.00 C541.88,474.95 542.27,475.97 543.10,477.30 C543.93,478.63 545.05,480.58 546.20,482.00 C547.35,483.42 548.72,484.65 550.00,485.80 C551.28,486.95 552.62,488.12 553.90,488.90 C555.18,489.68 556.67,489.85 557.70,490.50 C558.73,491.15 559.20,491.65 560.10,492.80 C561.00,493.95 562.08,495.87 563.10,497.40 C564.12,498.93 565.17,500.20 566.20,502.00 C567.23,503.80 568.33,506.13 569.30,508.20 C570.27,510.27 570.72,511.13 572.00,514.40 C573.28,517.67 575.13,522.48 577.00,527.80 C578.87,533.12 581.13,539.62 583.20,546.30 C585.27,552.98 587.33,562.75 589.40,567.90 C591.47,573.05 593.83,575.02 595.60,577.20 C597.37,579.38 598.20,579.72 600.00,581.00 C601.80,582.28 604.05,583.23 606.40,584.90 C608.75,586.57 612.05,589.20 614.10,591.00 C616.15,592.80 617.93,594.92 618.70,595.70" fill="none" stroke="#0000ff" stroke-width="1.0" stroke-linejoin="round" stroke-linecap="round" />
<path d="M464.70,595.70 C465.80,595.02 469.25,592.82 471.30,591.60 C473.35,590.38 475.10,589.75 477.00,588.40 C478.90,587.05 480.93,585.28 482.70,583.50 C484.47,581.72 486.23,579.62 487.60,577.70 C488.97,575.78 489.80,574.18 490.90,572.00 C492.00,569.82 493.25,567.05 494.20,564.60 C495.15,562.15 495.78,559.88 496.60,557.30 C497.42,554.72 498.38,551.77 499.10,549.10 C499.82,546.43 500.22,544.15 500.90,541.30 C501.58,538.45 502.27,535.08 503.20,532.00 C504.13,528.92 505.33,525.88 506.50,522.80 C507.67,519.72 509.03,516.47 510.20,513.50 C511.37,510.53 512.43,507.80 513.50,505.00 C514.57,502.20 515.57,499.25 516.60,496.70 C517.63,494.15 518.67,491.77 519.70,489.70 C520.73,487.63 521.77,485.97 522.80,484.30 C523.83,482.63 524.87,480.92 525.90,479.70 C526.93,478.48 527.98,477.67 529.00,477.00 C530.02,476.33 531.10,476.08 532.00,475.70 C532.90,475.32 533.37,474.75 534.40,474.70 C535.43,474.65 537.27,475.10 538.20,475.40 C539.13,475.70 539.05,475.92 540.00,476.50 C540.95,477.08 542.62,478.12 543.90,478.90 C545.18,479.68 546.42,480.17 547.70,481.20 C548.98,482.23 550.32,483.68 551.60,485.10 C552.88,486.52 554.12,488.17 555.40,489.70 C556.68,491.23 558.02,492.88 559.30,494.30 C560.58,495.72 561.82,496.92 563.10,498.20 C564.38,499.48 565.70,500.58 567.00,502.00 C568.30,503.42 569.73,504.90 570.90,506.70 C572.07,508.50 572.47,509.55 574.00,512.80 C575.53,516.05 578.05,521.13 580.10,526.20 C582.15,531.27 584.23,537.02 586.30,543.20 C588.37,549.38 590.45,558.15 592.50,563.30 C594.55,568.45 596.03,570.77 598.60,574.10 C601.17,577.43 605.07,580.48 607.90,583.30 C610.73,586.12 613.55,588.93 615.60,591.00 C617.65,593.07 618.80,594.92 620.20,595.70 C621.60,596.48 623.37,595.70 624.00,595.70" fill="none" stroke="#00ffff" stroke-width="1.0" stroke-linejoin="round" stroke-linecap="round" />
<text transform="translate(380.00,550.30) rotate(-90)" font-size="15.67" font-weight="bold"><tspan x="-0.21" font-style="italic" font-size="20.90">c</tspan><tspan x="11.08" font-style="italic" font-size="15.67" dy="3.00">P</tspan><tspan x="25.29" dy="-3.00">*</tspan><tspan x="31.87">10</tspan><tspan x="49.32" font-size="13.06" dy="-6.27">3</tspan><tspan x="58.52" dy="6.27">, J/(K*mol)</tspan></text>
<text font-weight="bold"><tspan x="517.00" y="641.80" font-style="italic" font-size="23">T</tspan><tspan x="530.20" y="641.80" font-size="23">,</tspan><tspan x="542.30" y="634.70" font-size="18.5">o</tspan><tspan x="555.40" y="641.80" font-size="22">C</tspan></text>
<line x1="587.80" y1="397.50" x2="608.50" y2="397.50" stroke="#000000" stroke-width="1" />
<text x="615.00" y="400.20" font-size="14.5" text-anchor="start" font-weight="normal" font-style="normal" >control</text>
<line x1="587.80" y1="417.20" x2="608.50" y2="417.20" stroke="#ff0000" stroke-width="1" />
<text x="616.30" y="419.90" font-size="14.5" text-anchor="start" font-weight="normal" font-style="normal" >80 <tspan font-family="Liberation Serif">&#181;</tspan>g/mL</text>
<line x1="587.80" y1="436.90" x2="608.50" y2="436.90" stroke="#008000" stroke-width="1" />
<text x="616.30" y="439.60" font-size="14.5" text-anchor="start" font-weight="normal" font-style="normal" >110 <tspan font-family="Liberation Serif">&#181;</tspan>g/mL</text>
<line x1="587.80" y1="456.60" x2="608.50" y2="456.60" stroke="#0000ff" stroke-width="1" />
<text x="616.30" y="459.30" font-size="14.5" text-anchor="start" font-weight="normal" font-style="normal" >160 <tspan font-family="Liberation Serif">&#181;</tspan>g/mL</text>
<line x1="587.80" y1="476.30" x2="608.50" y2="476.30" stroke="#00ffff" stroke-width="1" />
<text x="616.30" y="479.00" font-size="14.5" text-anchor="start" font-weight="normal" font-style="normal" >300 <tspan font-family="Liberation Serif">&#181;</tspan>g/mL</text>
</svg>
</body></html>
